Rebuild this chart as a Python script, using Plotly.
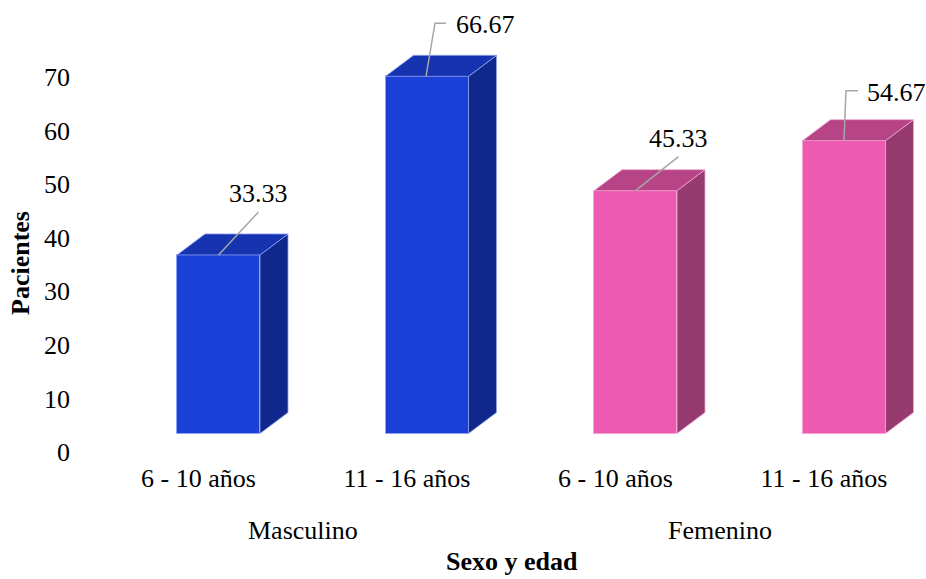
import plotly.graph_objects as go

# ---------------- data ----------------
groups = ["Masculino", "Femenino"]
age_labels = ["6 - 10 años", "11 - 16 años", "6 - 10 años", "11 - 16 años"]
group_of_bar = [0, 0, 1, 1]
values = [33.33, 66.67, 45.33, 54.67]
y_ticks = [0, 10, 20, 30, 40, 50, 60, 70]

# ---------------- styling ----------------
W, H = 926, 579
ML, MR, MT, MB = 80, 0, 0, 119
PX_X = 208.5            # pixels per category
PX_Y = 5.357            # pixels per unit
X0_PIX = 198.5          # pixel of category 0 (label)
Y0_PIX = 452.0          # pixel of value 0 (axis label)
FONT = "Liberation Serif, Times New Roman, DejaVu Serif, serif"
FS = 26

front_cols = ["#1A40D8", "#1A40D8", "#EC5AB2", "#EC5AB2"]
top_cols = ["#1634B0", "#1634B0", "#B64486", "#B64486"]
side_cols = ["#10278C", "#10278C", "#963A70", "#963A70"]
edge_cols = ["#8FA2F0", "#8FA2F0", "#F3A6D2", "#F3A6D2"]

BAR_SHIFT = 20 / PX_X     # front face center offset from label
BAR_W = 83 / PX_X
DEPTH_X = 28 / PX_X
DEPTH_Y = 21 / PX_Y
BASE = (Y0_PIX - 433.5) / PX_Y   # front base elevation

x_range = [(ML - X0_PIX) / PX_X, (W - MR - X0_PIX) / PX_X]
y_range = [(Y0_PIX - (H - MB)) / PX_Y, Y0_PIX / PX_Y]


def paper_y(p):
    return ((H - MB) - p) / (H - MB - MT)


def paper_x(p):
    return (p - ML) / (W - ML - MR)


fig = go.Figure()

# side and top faces
for i, v in enumerate(values):
    xc = i + BAR_SHIFT
    x0, x1 = xc - BAR_W / 2, xc + BAR_W / 2
    top = BASE + v
    fig.add_trace(go.Scatter(
        x=[x1, x1, x1 + DEPTH_X, x1 + DEPTH_X, x1],
        y=[BASE, top, top + DEPTH_Y, BASE + DEPTH_Y, BASE],
        fill="toself", fillcolor=side_cols[i], mode="lines",
        line=dict(color=edge_cols[i], width=0.8), hoverinfo="skip", showlegend=False))
    fig.add_trace(go.Scatter(
        x=[x0, x1, x1 + DEPTH_X, x0 + DEPTH_X, x0],
        y=[top, top, top + DEPTH_Y, top + DEPTH_Y, top],
        fill="toself", fillcolor=top_cols[i], mode="lines",
        line=dict(color=edge_cols[i], width=0.8), hoverinfo="skip", showlegend=False))

# front faces
fig.add_trace(go.Bar(
    x=[i + BAR_SHIFT for i in range(len(values))],
    y=values, base=BASE, width=BAR_W,
    marker=dict(color=front_cols, line=dict(color=edge_cols, width=1)),
    showlegend=False,
    hovertext=[f"{groups[group_of_bar[i]]}, {age_labels[i]}: {v:.2f}" for i, v in enumerate(values)],
    hoverinfo="text"))

# data labels with leader lines (offsets in pixels from front-top center)
label_off = [(40, -61), (58, -52), (43, -52), (52, -48)]
leader_pts = [
    [(0, 0), (40, -43)],
    [(-1, 0), (8, -53), (19, -53)],
    [(0, 0), (43, -34)],
    [(0, 0), (2, -50), (14, -50)],
]
for i, v in enumerate(values):
    xc = i + BAR_SHIFT
    top = BASE + v
    pts = leader_pts[i]
    fig.add_trace(go.Scatter(
        x=[xc + dx / PX_X for dx, dy in pts],
        y=[top - dy / PX_Y for dx, dy in pts],
        mode="lines", line=dict(color="#A6A6A6", width=1.5),
        hoverinfo="skip", showlegend=False))
    dx, dy = label_off[i]
    fig.add_annotation(x=xc + dx / PX_X, y=top - dy / PX_Y, xref="x", yref="y",
                       text=f"{v:.2f}", showarrow=False,
                       font=dict(family=FONT, size=FS, color="#000000"),
                       xanchor="center", yanchor="middle")

# group labels
for g, name in enumerate(groups):
    idx = [i for i, gg in enumerate(group_of_bar) if gg == g]
    fig.add_annotation(x=sum(idx) / len(idx), y=paper_y(530), xref="x", yref="paper",
                       text=name, showarrow=False,
                       font=dict(family=FONT, size=FS, color="#000000"),
                       xanchor="center", yanchor="middle")

# axis titles
fig.add_annotation(x=paper_x(512), y=paper_y(578), xref="paper", yref="paper",
                   text="<b>Sexo y edad</b>", showarrow=False,
                   font=dict(family=FONT, size=FS, color="#000000"),
                   xanchor="center", yanchor="bottom")
fig.add_annotation(x=paper_x(21), y=paper_y(263), xref="paper", yref="paper",
                   text="<b>Pacientes</b>", showarrow=False, textangle=-90,
                   font=dict(family=FONT, size=FS, color="#000000"),
                   xanchor="center", yanchor="middle")

fig.update_layout(
    width=W, height=H,
    margin=dict(l=ML, r=MR, t=MT, b=MB),
    paper_bgcolor="white", plot_bgcolor="white",
    font=dict(family=FONT, size=FS, color="#000000"),
    xaxis=dict(range=x_range, tickmode="array", tickvals=list(range(len(age_labels))),
               ticktext=age_labels, showgrid=False, zeroline=False, showline=False,
               ticks="", tickfont=dict(family=FONT, size=FS, color="#000000"),
               fixedrange=True),
    yaxis=dict(range=y_range, tickmode="array", tickvals=y_ticks,
               ticktext=[str(t) for t in y_ticks], showgrid=False, zeroline=False,
               showline=False, ticks="", ticklabelstandoff=9,
               tickfont=dict(family=FONT, size=FS, color="#000000"), fixedrange=True),
    bargap=0,
)

fig.write_html("out.html")
